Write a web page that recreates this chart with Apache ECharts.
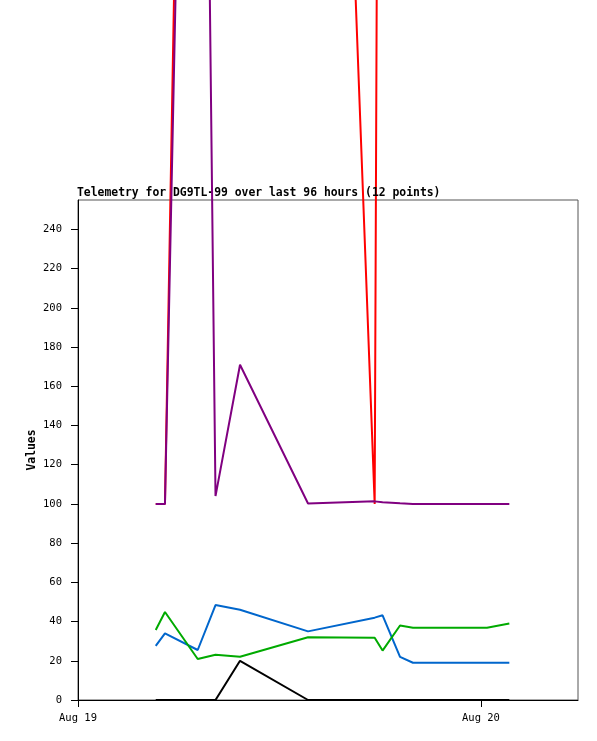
<!DOCTYPE html>
<html>
<head>
<meta charset="utf-8">
<script src="https://cdn.jsdelivr.net/npm/echarts@6/dist/echarts.min.js"></script>
<style>
html,body{margin:0;padding:0;background:#fff;}
#c{width:597px;height:741px;}
</style>
</head>
<body>
<div id="c"></div>
<script>
// hours after Aug 19 00:00
const times = [4.63, 5.18, 7.13, 8.19, 9.65, 13.70, 17.67, 18.14, 19.18, 19.95, 24.36, 25.69];
const red    = [100, 100, 1036, 1050, 1040, 1003, 100, 1105, 1100, 1100, 1100, 1100];
const purple = [100, 100, 902, 104, 171, 100.2, 101.3, 100.9, 100.3, 100, 100, 100];
const blue   = [27.6, 34, 25.5, 48.4, 46, 35, 42, 43.2, 22, 19, 19, 19];
const green  = [35.7, 44.9, 20.9, 23.1, 22.1, 32, 31.8, 25.2, 38, 36.9, 36.9, 39];
const black  = [0, 0, 0, 0, 20, 0, 0, 0, 0, 0, 0, 0];
const xTickLabels = {0: 'Aug 19', 24: 'Aug 20'};
const yTicks = [0, 20, 40, 60, 80, 100, 120, 140, 160, 180, 200, 220, 240];

function pts(vals){ return times.map((t,i)=>[t, vals[i]]); }
function ser(name, vals, color, z){
  return {name, type:'line', data:pts(vals), symbol:'none', clip:false,
    lineStyle:{color, width:2}, itemStyle:{color}, z, animation:false};
}
const chart = echarts.init(document.getElementById('c'));
const mono = 'DejaVu Sans Mono';
chart.setOption({
  animation:false,
  title:{text:'Telemetry for DG9TL-99 over last 96 hours (12 points)', left:72, top:183,
    textStyle:{fontFamily:mono, fontSize:11.4, fontWeight:'bold', color:'#000'}},
  grid:{left:78, right:19, top:200, bottom:41, show:true, borderColor:'#555', borderWidth:1, backgroundColor:'transparent'},
  xAxis:{type:'value', min:0, max:29.78, interval:24,
    axisLine:{show:true, lineStyle:{color:'#000', width:1}},
    axisTick:{show:true, inside:false, length:7, lineStyle:{color:'#000'}},
    axisLabel:{margin:13, fontFamily:mono, fontSize:10.5, color:'#000', showMaxLabel:false,
      formatter:v=>xTickLabels[v]||''},
    splitLine:{show:false}},
  yAxis:{type:'value', min:0, max:255, interval:20, name:'Values', nameLocation:'middle', nameGap:40,
    nameMoveOverlap:false,
    nameTextStyle:{fontFamily:mono, fontSize:11.4, fontWeight:'bold', color:'#000'},
    axisLine:{show:true, lineStyle:{color:'#000', width:1}},
    axisTick:{show:true, length:7, lineStyle:{color:'#000'}},
    axisLabel:{margin:16, fontFamily:mono, fontSize:10.5, color:'#000', showMaxLabel:false,
      formatter:v=>yTicks.includes(v)?String(v):''},
    splitLine:{show:false}},
  series:[
    ser('black', black, '#000000', 2),
    ser('blue', blue, '#0066cc', 3),
    ser('green', green, '#00aa00', 4),
    ser('red', red, '#ff0000', 5),
    ser('purple', purple, '#800080', 6)
  ]
});
</script>
</body>
</html>
